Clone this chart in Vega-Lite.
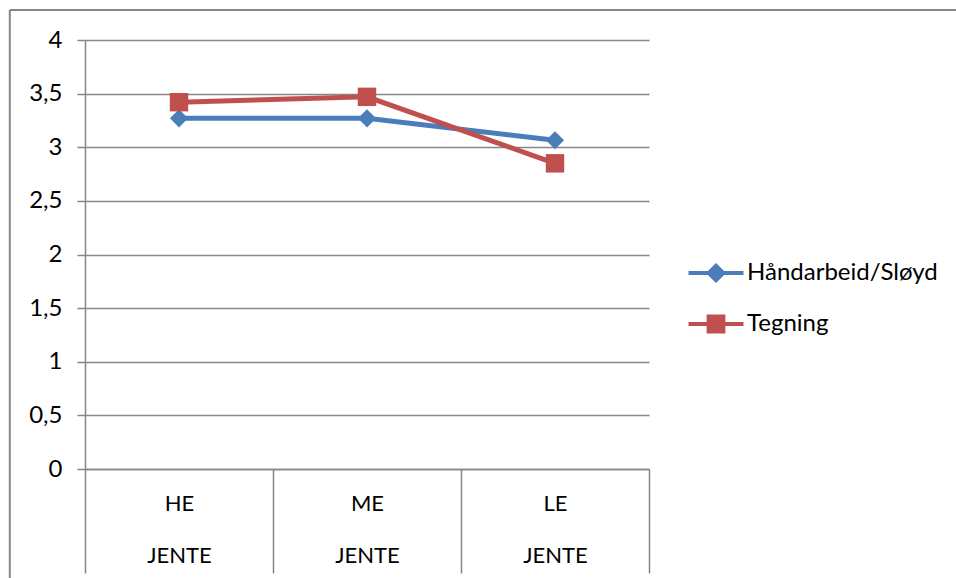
{
  "$schema": "https://vega.github.io/schema/vega-lite/v6.json",
  "width": 564,
  "height": 429,
  "autosize": {"type": "none"},
  "padding": {"left": 85, "top": 40, "right": 307, "bottom": 109},
  "background": "white",
  "config": {"view": {"stroke": null}, "font": "Lato"},
  "data": {
    "values": [
      {"level": "HE", "series": "Håndarbeid/Sløyd", "value": 3.27},
      {"level": "ME", "series": "Håndarbeid/Sløyd", "value": 3.27},
      {"level": "LE", "series": "Håndarbeid/Sløyd", "value": 3.065},
      {"level": "HE", "series": "Tegning", "value": 3.42},
      {"level": "ME", "series": "Tegning", "value": 3.47},
      {"level": "LE", "series": "Tegning", "value": 2.85}
    ]
  },
  "layer": [
    {
      "data": {"values": [{"frame": "border"}]},
      "layer": [
        {
          "mark": {"type": "rule", "color": "#868686", "strokeWidth": 2, "clip": false},
          "encoding": {
            "x": {"datum": -0.4, "type": "quantitative", "scale": {"domain": [0, 3], "nice": false, "zero": false}, "axis": null},
            "x2": {"datum": 6},
            "y": {"datum": 4.28, "type": "quantitative", "scale": {"domain": [0, 4], "nice": false}, "axis": null}
          }
        },
        {
          "mark": {"type": "rule", "color": "#868686", "strokeWidth": 2, "clip": false},
          "encoding": {
            "x": {"datum": -0.4, "type": "quantitative", "scale": {"domain": [0, 3], "nice": false, "zero": false}, "axis": null},
            "y": {"datum": 4.28, "type": "quantitative", "scale": {"domain": [0, 4], "nice": false}, "axis": null},
            "y2": {"datum": -2}
          }
        }
      ]
    },
    {
      "encoding": {
        "x": {
          "field": "level",
          "type": "nominal",
          "sort": ["HE", "ME", "LE"],
          "bandPosition": 0.5,
          "scale": {"type": "band", "paddingInner": 0, "paddingOuter": 0},
          "axis": {
            "title": null,
            "tickBand": "extent",
            "tickSize": 104,
            "tickWidth": 1.5,
            "tickColor": "#868686",
            "domainColor": "#868686",
            "domainWidth": 1.5,
            "labelExpr": "datum.label ? [datum.label, 'JENTE'] : ''",
            "labelLineHeight": 52,
            "labelBaseline": "top",
            "labelPadding": -80,
            "labelFontSize": 22,
            "labelColor": "black",
            "labelAngle": 0
          }
        },
        "y": {
          "field": "value",
          "type": "quantitative",
          "scale": {"domain": [0, 4], "nice": false},
          "axis": {
            "title": null,
            "values": [0, 0.5, 1, 1.5, 2, 2.5, 3, 3.5, 4],
            "tickSize": 8,
            "tickWidth": 1.5,
            "tickColor": "#868686",
            "domainColor": "#868686",
            "domainWidth": 1.5,
            "grid": true,
            "gridColor": "#868686",
            "gridWidth": 1.5,
            "labelPadding": 15,
            "labelFontSize": 24,
            "labelColor": "black",
            "labelExpr": "replace(format(datum.value, '~g'), '.', ',')"
          }
        },
        "color": {
          "field": "series",
          "type": "nominal",
          "sort": ["Håndarbeid/Sløyd", "Tegning"],
          "scale": {"domain": ["Håndarbeid/Sløyd", "Tegning"], "range": ["#4A7EBB", "#C0504D"]},
          "legend": {
            "title": null,
            "orient": "none",
            "legendX": 607.5,
            "legendY": 209.5,
            "symbolSize": 2209,
            "labelOffset": 7.5,
            "labelFontSize": 24,
            "labelLimit": 400,
            "labelColor": "black",
            "labelBaseline": "middle",
            "rowPadding": 15,
            "encode": {
              "symbols": {
                "update": {
                  "shape": {"signal": "datum.value === 'Tegning' ? 'M-1.17,-0.085L-0.4,-0.085L-0.4,-0.4L0.4,-0.4L0.4,-0.085L1.17,-0.085L1.17,0.085L0.4,0.085L0.4,0.4L-0.4,0.4L-0.4,0.085L-1.17,0.085Z' : 'M-1.17,-0.085L-0.345,-0.085L0,-0.43L0.345,-0.085L1.17,-0.085L1.17,0.085L0.345,0.085L0,0.43L-0.345,0.085L-1.17,0.085Z'"},
                  "fill": {"signal": "datum.value === 'Tegning' ? '#C0504D' : '#4A7EBB'"},
                  "stroke": {"value": null},
                  "strokeWidth": {"value": 0},
                  "opacity": {"value": 1},
                  "fillOpacity": {"value": 1}
                }
              }
            }
          }
        }
      },
      "layer": [
        {"mark": {"type": "line", "strokeWidth": 5}},
        {
          "transform": [{"filter": "datum.series === 'Håndarbeid/Sløyd'"}],
          "mark": {"type": "point", "filled": true, "opacity": 1, "shape": "diamond", "size": 330}
        },
        {
          "transform": [{"filter": "datum.series === 'Tegning'"}],
          "mark": {"type": "point", "filled": true, "opacity": 1, "shape": "square", "size": 340}
        }
      ]
    }
  ],
  "resolve": {"scale": {"x": "independent", "y": "independent"}}
}
